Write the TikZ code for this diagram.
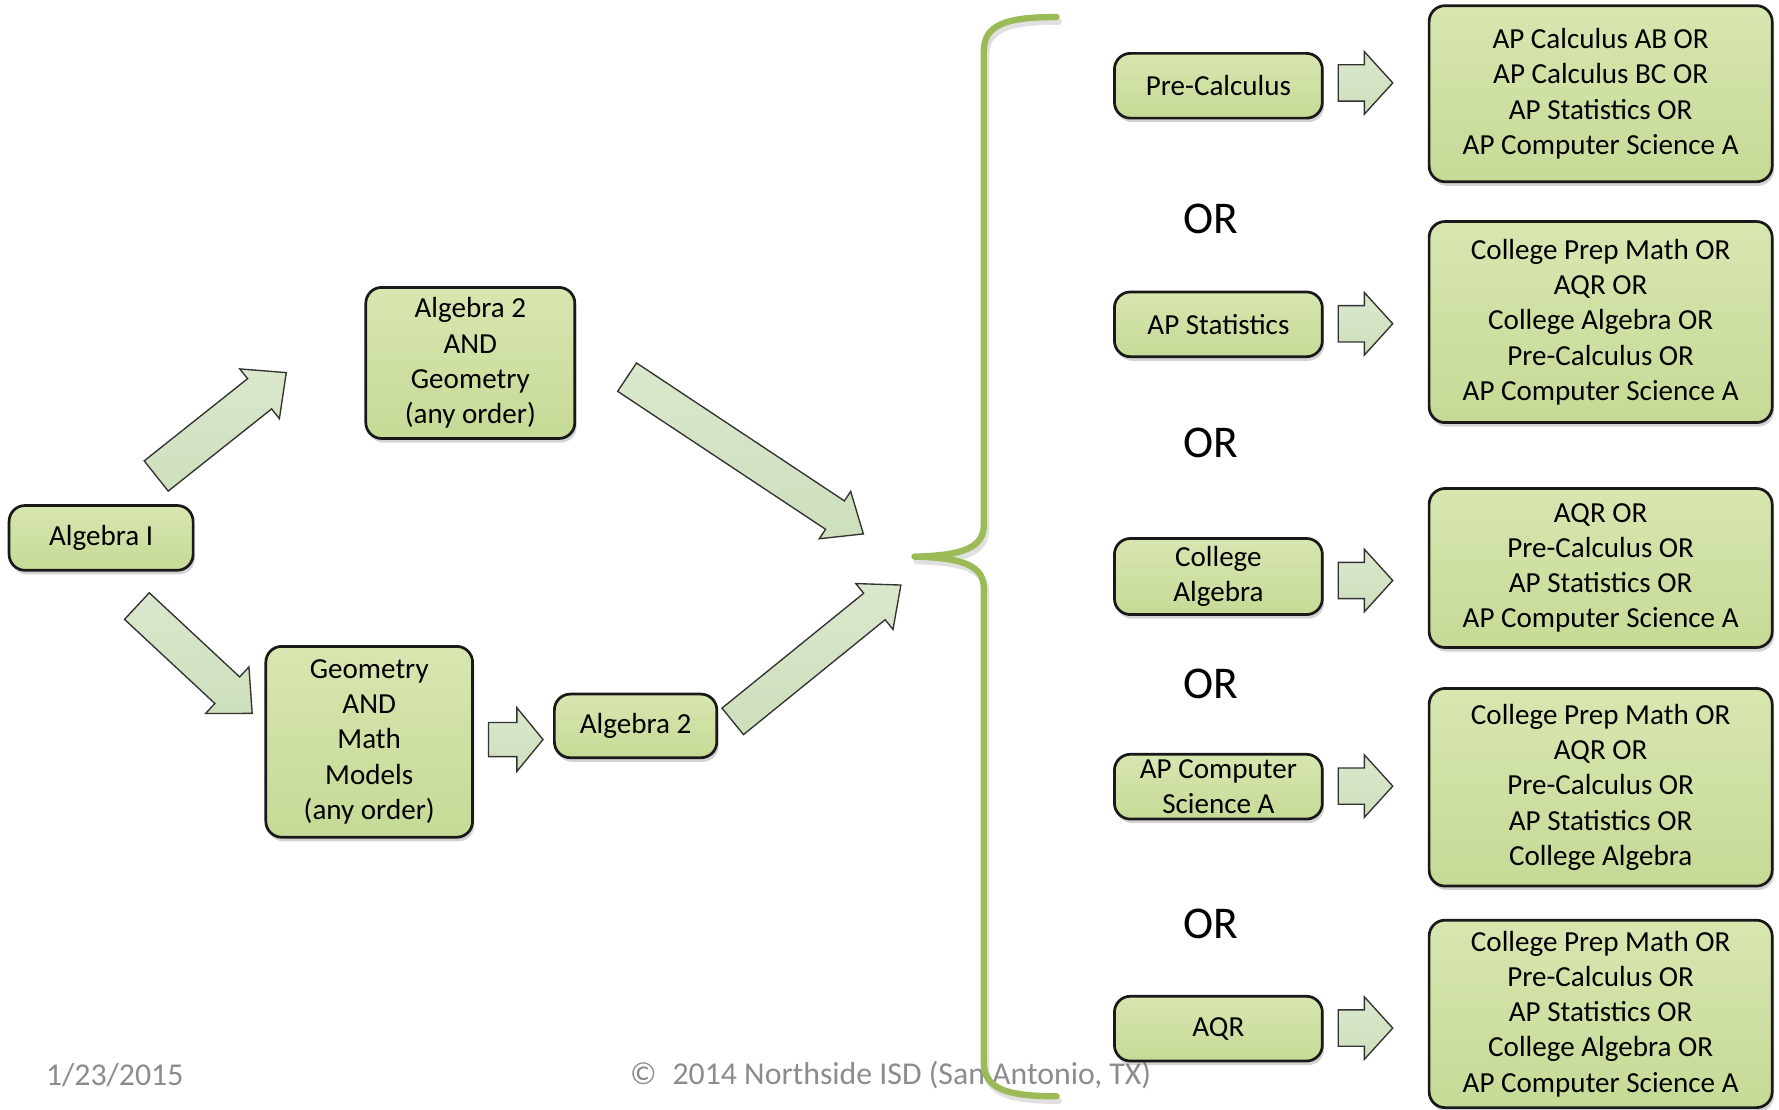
\documentclass[tikz,border=0pt]{standalone}
\usepackage{fontspec}
\setmainfont{Carlito}
\usetikzlibrary{calc,shadows}
\definecolor{boxtop}{RGB}{216,230,176}
\definecolor{boxbot}{RGB}{198,218,150}
\definecolor{arrfill}{RGB}{206,223,188}
\definecolor{bracegreen}{RGB}{155,187,89}
\definecolor{footgray}{RGB}{140,140,140}
\tikzset{
  box/.style={draw=black!90, line width=1.2pt, rounded corners=7pt, top color=boxtop, bottom color=boxbot,
    align=center, inner sep=0pt, font=\fontsize{12.8}{15.5}\selectfont,
    drop shadow={opacity=0.35, shadow xshift=0.8pt, shadow yshift=-1.8pt}},
  barrow/.style={draw=black!80, line width=0.6pt, line join=miter, top color=arrfill!75!white, bottom color=arrfill},
  orlabel/.style={font=\fontsize{20}{24}\selectfont},
  foot/.style={font=\fontsize{14}{17}\selectfont, text=footgray},
  bracestyle/.style={draw=bracegreen, line width=2.8pt, line cap=round, line join=round},
}
\newcommand\blockarr[5]{%
  \coordinate (#2-b) at ($(#2)!#5!(#1)$);
  \draw[barrow] ($(#1)!#3!90:(#2)$) -- ($(#2-b)!#3!90:(#2)$) -- ($(#2-b)!#4!90:(#2)$) -- (#2)
    -- ($(#2-b)!#4!-90:(#2)$) -- ($(#2-b)!#3!-90:(#2)$) -- ($(#1)!#3!-90:(#2)$) -- cycle;}
\begin{document}
\begin{tikzpicture}[x=0.5pt,y=-0.5pt]
\useasboundingbox (0,0) rectangle (1566,977);

% footer
\node[foot] (date) at (101,946) {1/23/2015};
\node[foot] (copy) at (784,946) {©\enspace 2014 Northside ISD (San Antonio, TX)};

% left part
\node[box, minimum width=81pt, minimum height=28.5pt] (alg1) at (89,473.5) {Algebra I};
\node[box, minimum width=92pt, minimum height=66.5pt] (alg2geo) at (414,319.5) {Algebra 2\\AND\\Geometry\\(any order)};
\node[box, minimum width=91pt, minimum height=84pt] (geomm) at (325,653) {Geometry\\AND\\Math\\Models\\(any order)};
\node[box, minimum width=71.5pt, minimum height=28pt] (alg2) at (559.5,639) {Algebra 2};

% middle column
\node[box, minimum width=91.5pt, minimum height=28.5pt] (precalc) at (1072.5,75.5) {Pre-Calculus};
\node[box, minimum width=91.5pt, minimum height=28.5pt] (apstat) at (1072.5,285.5) {AP Statistics};
\node[box, minimum width=91.5pt, minimum height=33.5pt] (colalg) at (1072.5,507.5) {College\\Algebra};
\node[box, minimum width=91.5pt, minimum height=28.5pt] (apcs) at (1072.5,692.5) {AP Computer\\Science A};
\node[box, minimum width=91.5pt, minimum height=28.5pt] (aqr) at (1072.5,905.5) {AQR};

% OR labels
\node[orlabel] (or1) at (1066,193) {OR};
\node[orlabel] (or2) at (1066,390) {OR};
\node[orlabel] (or3) at (1066,602) {OR};
\node[orlabel] (or4) at (1066,813) {OR};

% right column
\node[box, minimum width=151pt, minimum height=77.5pt] (r1) at (1409,82.5)
  {AP Calculus AB OR\\AP Calculus BC OR\\AP Statistics OR\\AP Computer Science A};
\node[box, minimum width=151pt, minimum height=88.5pt] (r2) at (1409,283.5)
  {College Prep Math OR\\AQR OR\\College Algebra OR\\Pre-Calculus OR\\AP Computer Science A};
\node[box, minimum width=151pt, minimum height=70pt] (r3) at (1409,500)
  {AQR OR\\Pre-Calculus OR\\AP Statistics OR\\AP Computer Science A};
\node[box, minimum width=151pt, minimum height=87pt] (r4) at (1409,693)
  {College Prep Math OR\\AQR OR\\Pre-Calculus OR\\AP Statistics OR\\College Algebra};
\node[box, minimum width=151pt, minimum height=82.5pt] (r5) at (1409,892.5)
  {College Prep Math OR\\Pre-Calculus OR\\AP Statistics OR\\College Algebra OR\\AP Computer Science A};

% block arrows (left part)
\coordinate (a1t) at (137.5,419); \coordinate (a1h) at (252,328);
\coordinate (a2t) at (120.5,533.5); \coordinate (a2h) at (222,628);
\coordinate (a3t) at (552,332); \coordinate (a3h) at (760,470);
\coordinate (a4t) at (645,635); \coordinate (a4h) at (793,515);
\coordinate (a5t) at (430,651); \coordinate (a5h) at (478,651);
\blockarr{a1t}{a1h}{8.5pt}{14pt}{15pt}
\blockarr{a2t}{a2h}{8pt}{14pt}{15pt}
\blockarr{a3t}{a3h}{7.5pt}{12.5pt}{15pt}
\blockarr{a4t}{a4h}{7.5pt}{13pt}{15pt}
\blockarr{a5t}{a5h}{7.5pt}{14pt}{11.5pt}

% block arrows (right part)
\foreach \n/\yy in {p1/73, p2/285, p3/511, p4/692, p5/905}{
  \coordinate (\n t) at (1178,\yy); \coordinate (\n h) at (1226,\yy);
  \blockarr{\n t}{\n h}{8pt}{13.75pt}{12.5pt}
}

% brace
\coordinate (brtop) at (930,15);
\coordinate (brmid) at (805,490);
\coordinate (brbot) at (930,965);
\begin{scope}[shift={(2,4)}]
\draw[line width=2.8pt, draw=black, opacity=0.12, line cap=round, line join=round]
  (930,15) .. controls (885,15) and (866,22) .. (866,45) -- (866,462)
  .. controls (866,482) and (848,489) .. (805,490)
  .. controls (848,491) and (866,498) .. (866,518) -- (866,935)
  .. controls (866,958) and (885,965) .. (930,965);
\end{scope}
\draw[bracestyle] (brtop) .. controls (885,15) and (866,22) .. (866,45) -- (866,462)
  .. controls (866,482) and (848,489) .. (brmid)
  .. controls (848,491) and (866,498) .. (866,518) -- (866,935)
  .. controls (866,958) and (885,965) .. (brbot);
\end{tikzpicture}
\end{document}
